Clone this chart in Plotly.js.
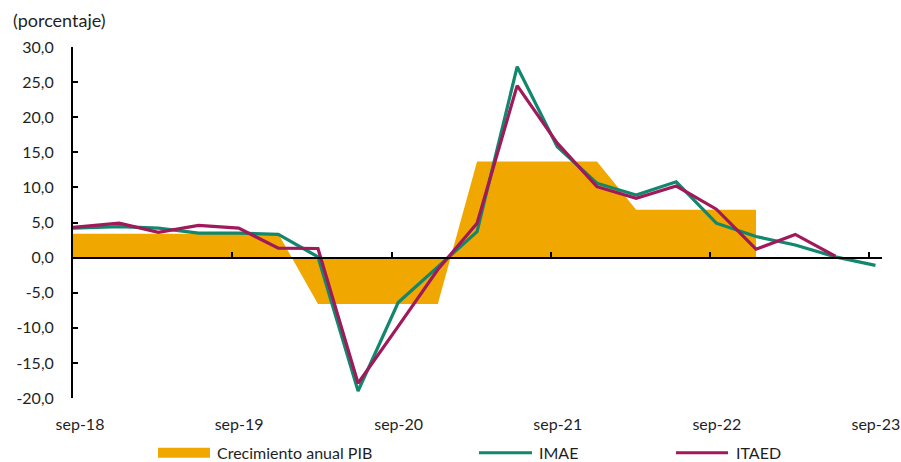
<!DOCTYPE html>
<html>
<head>
<meta charset="utf-8">
<script src="https://cdn.plot.ly/plotly-3.0.1.min.js"></script>
<style>html,body{margin:0;padding:0;background:#fff;}#chart{width:901px;height:462px;}</style>
</head>
<body>
<div id="chart"></div>
<script>
// Quarterly observation dates (sep-18 ... sep-23)
const dates = ["2018-09-01","2018-12-16","2019-03-16","2019-06-16","2019-09-16","2019-12-16",
  "2020-03-16","2020-06-16","2020-09-16","2020-12-16","2021-03-16","2021-06-16","2021-09-16",
  "2021-12-16","2022-03-16","2022-06-16","2022-09-16","2022-12-16","2023-03-16","2023-06-16","2023-09-16"];

// Crecimiento anual PIB (annual value repeated per quarter, through dec-22)
const pib = [3.4,3.4,3.4,3.4,3.4,3.4,-6.6,-6.6,-6.6,-6.6,13.7,13.7,13.7,13.7,6.8,6.8,6.8,6.8];

const imae = [4.2,4.4,4.2,3.5,3.5,3.3,0.1,-19.0,-6.4,-1.3,3.7,27.2,15.8,10.6,8.9,10.8,4.9,3.0,1.8,0.1,-1.1];

const itaed = [4.3,4.9,3.6,4.6,4.2,1.35,1.3,-17.9,-9.8,-1.7,4.9,24.5,16.3,10.1,8.45,10.2,6.9,1.2,3.3,0.2,null];

const xTickVals = ["2018-09-01","2019-09-01","2020-09-01","2021-09-01","2022-09-01","2023-09-01"];
const xTickText = ["sep-18","sep-19","sep-20","sep-21","sep-22","sep-23"];
const yTickVals = [-20,-15,-10,-5,0,5,10,15,20,25,30];
const yTickText = ["-20,0","-15,0","-10,0","-5,0","0,0","5,0","10,0","15,0","20,0","25,0","30,0"];

const seriesNames = ["Crecimiento anual PIB","IMAE","ITAED"];
const colors = {pib:"#F0A800", imae:"#13876D", itaed:"#A0195B"};

const FONT = "Lato, 'Open Sans', sans-serif";
const TXT = "#1f1f1f";

const traces = [
  {x: dates.slice(0, pib.length), y: pib, type:"scatter", mode:"lines", name: seriesNames[0],
   fill:"tozeroy", fillcolor: colors.pib, line:{width:0, color: colors.pib}, hoverinfo:"skip"},
  {x: dates, y: imae, type:"scatter", mode:"lines", name: seriesNames[1],
   line:{width:3.2, color: colors.imae}},
  {x: dates, y: itaed, type:"scatter", mode:"lines", name: seriesNames[2],
   line:{width:3.2, color: colors.itaed}, connectgaps:false}
];

// custom legend
const legY = -0.156;
const shapes = [
  {type:"rect", xref:"paper", yref:"paper", x0:(158-73)/809, x1:(210-73)/809, y0:legY-0.014, y1:legY+0.014,
   fillcolor: colors.pib, line:{width:0}},
  {type:"line", xref:"paper", yref:"paper", x0:(479-73)/809, x1:(532-73)/809, y0:legY, y1:legY,
   line:{color: colors.imae, width:3}},
  {type:"line", xref:"paper", yref:"paper", x0:(676-73)/809, x1:(728-73)/809, y0:legY, y1:legY,
   line:{color: colors.itaed, width:3}}
];
const legText = (txt, px) => ({text: txt, xref:"paper", yref:"paper", x:(px-73)/809, y:legY,
  xanchor:"left", yanchor:"middle", showarrow:false, font:{family:FONT, size:16, color:TXT}});
const annotations = [
  legText(seriesNames[0], 215),
  legText(seriesNames[1], 537),
  legText(seriesNames[2], 734)
];

const layout = {
  width:901, height:462,
  margin:{l:73, r:19, t:47, b:64},
  paper_bgcolor:"#fff", plot_bgcolor:"#fff",
  showlegend:false,
  font:{family:FONT, size:16, color:TXT},
  title:{text:"(porcentaje)", xref:"container", yref:"container", x:13/901, xanchor:"left",
         y:1-21/462, yanchor:"middle", font:{family:FONT, size:18, color:TXT}},
  xaxis:{type:"date", range:["2018-09-01","2023-10-01"], anchor:"free", position:0.4,
         showline:true, linecolor:"#000", linewidth:2, ticks:"inside", ticklen:5, tickwidth:2, tickcolor:"#000",
         tickvals:xTickVals, ticktext:xTickText, ticklabelshift:7, ticklabelstandoff:152,
         showgrid:false, zeroline:false, tickfont:{family:FONT, size:16, color:TXT}},
  yaxis:{range:[-20,30], showline:true, linecolor:"#000", linewidth:2, ticks:"inside", ticklen:5, tickwidth:2,
         tickcolor:"#000", tickvals:yTickVals, ticktext:yTickText, showgrid:false, zeroline:false,
         ticklabelstandoff:14, tickfont:{family:FONT, size:16, color:TXT}},
  shapes: shapes,
  annotations: annotations
};

Plotly.newPlot("chart", traces, layout, {displayModeBar:false, staticPlot:true});
</script>
</body>
</html>
